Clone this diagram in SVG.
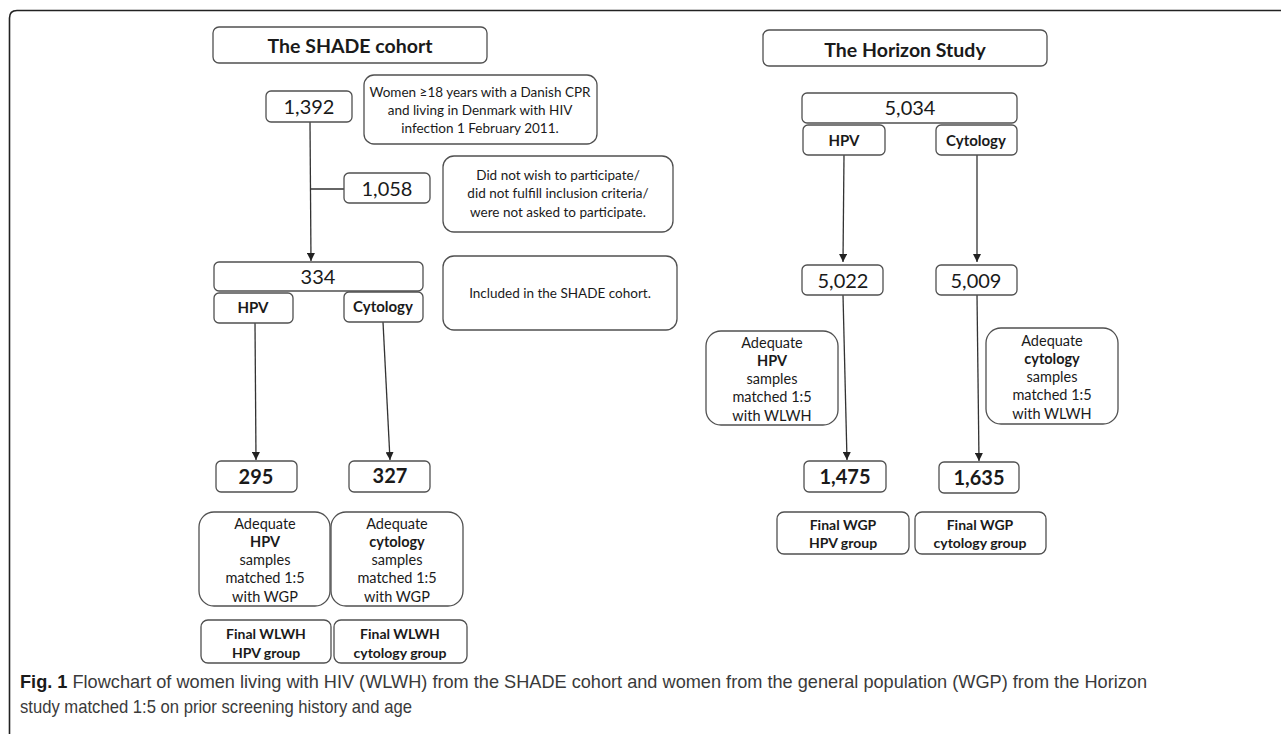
<svg xmlns="http://www.w3.org/2000/svg" width="1281" height="734" viewBox="0 0 1281 734">
<style>
.box{fill:#fff;stroke:#505050;stroke-width:1.3}
.t{font-family:Lato,"Liberation Sans",sans-serif;fill:#1a1a1a;text-anchor:middle;dominant-baseline:central}
.title{font-size:19.5px;font-weight:bold}
.num{font-size:20px}
.numb{font-size:20px;font-weight:bold}
.lab{font-size:15px;font-weight:bold}
.note{font-size:13.5px}
.adq{font-size:14.5px}
.fin{font-size:14px;font-weight:bold}
.con{stroke:#333;stroke-width:1.3;fill:none}
.cap{font-family:"Liberation Sans",Arial,sans-serif;font-size:18.5px;fill:#3a3a3a}
</style>
<defs>
<marker id="ah" markerWidth="8" markerHeight="8" refX="8" refY="4" orient="auto" markerUnits="userSpaceOnUse">
<path d="M0,0 L8,4 L0,8 z" fill="#222"/>
</marker>
</defs>
<rect width="1281" height="734" fill="#fff"/>
<path d="M9.5 734 V18 Q9.5 10.5 17 10.5 H1281" fill="none" stroke="#222" stroke-width="1.6"/>

<g id="connectors">
<line class="con" x1="310" y1="122" x2="311" y2="261" marker-end="url(#ah)"/>
<line class="con" x1="311" y1="189" x2="344" y2="189"/>
<line class="con" x1="255" y1="323" x2="256" y2="460" marker-end="url(#ah)"/>
<line class="con" x1="383" y1="322" x2="390" y2="460" marker-end="url(#ah)"/>
<line class="con" x1="844" y1="155" x2="843" y2="262" marker-end="url(#ah)"/>
<line class="con" x1="977" y1="155" x2="977" y2="262" marker-end="url(#ah)"/>
<line class="con" x1="843" y1="295" x2="847" y2="460" marker-end="url(#ah)"/>
<line class="con" x1="977" y1="295" x2="979" y2="461" marker-end="url(#ah)"/>
</g>

<g id="shade-title"><rect class="box" x="213" y="27" width="274" height="36" rx="6"/><text class="t title" x="350" y="45">The SHADE cohort</text></g>
<g id="n1392"><rect class="box" x="266" y="91" width="86" height="31" rx="5"/><text class="t num" x="309" y="106">1,392</text></g>
<g id="women"><rect class="box" x="364" y="75" width="233" height="69" rx="10"/>
<text class="t note" x="480" y="92">Women ≥18 years with a Danish CPR</text>
<text class="t note" x="480" y="110">and living in Denmark with HIV</text>
<text class="t note" x="480" y="128">infection 1 February 2011.</text></g>
<g id="n1058"><rect class="box" x="344" y="173" width="86" height="30" rx="5"/><text class="t num" x="387" y="188">1,058</text></g>
<g id="didnot"><rect class="box" x="443" y="156" width="230" height="76" rx="11"/>
<text class="t note" x="558" y="175">Did not wish to participate/</text>
<text class="t note" x="558" y="193">did not fulfill inclusion criteria/</text>
<text class="t note" x="558" y="212">were not asked to participate.</text></g>
<g id="n334"><rect class="box" x="214" y="262" width="209" height="29" rx="5"/><text class="t num" x="318" y="276">334</text></g>
<g id="shade-hpv"><rect class="box" x="214" y="293" width="79" height="30" rx="5"/><text class="t lab" x="253" y="307">HPV</text></g>
<g id="shade-cyt"><rect class="box" x="344" y="292" width="79" height="30" rx="5"/><text class="t lab" x="383" y="306">Cytology</text></g>
<g id="included"><rect class="box" x="443" y="256" width="234" height="74" rx="11"/><text class="t note" x="560" y="293">Included in the SHADE cohort.</text></g>
<g id="n295"><rect class="box" x="216" y="461" width="81" height="31" rx="5"/><text class="t numb" x="256" y="476">295</text></g>
<g id="n327"><rect class="box" x="349" y="461" width="81" height="31" rx="5"/><text class="t numb" x="390" y="475">327</text></g>
<g id="adq-shade-hpv"><rect class="box" x="199" y="512" width="131" height="94" rx="15"/>
<text class="t adq" x="265" y="523">Adequate</text>
<text class="t adq" x="265" y="541" font-weight="bold">HPV</text>
<text class="t adq" x="265" y="559">samples</text>
<text class="t adq" x="265" y="577">matched 1:5</text>
<text class="t adq" x="265" y="596">with WGP</text></g>
<g id="adq-shade-cyt"><rect class="box" x="331" y="512" width="132" height="94" rx="15"/>
<text class="t adq" x="397" y="523">Adequate</text>
<text class="t adq" x="397" y="541" font-weight="bold">cytology</text>
<text class="t adq" x="397" y="559">samples</text>
<text class="t adq" x="397" y="577">matched 1:5</text>
<text class="t adq" x="397" y="596">with WGP</text></g>
<g id="final-wlwh-hpv"><rect class="box" x="201" y="620" width="130" height="43" rx="7"/>
<text class="t fin" x="266" y="633">Final WLWH</text><text class="t fin" x="266" y="652">HPV group</text></g>
<g id="final-wlwh-cyt"><rect class="box" x="334" y="620" width="133" height="43" rx="7"/>
<text class="t fin" x="400" y="633">Final WLWH</text><text class="t fin" x="400" y="652">cytology group</text></g>

<g id="horizon-title"><rect class="box" x="763" y="30" width="284" height="36" rx="6"/><text class="t title" x="905" y="49">The Horizon Study</text></g>
<g id="n5034"><rect class="box" x="802" y="93" width="215" height="30" rx="5"/><text class="t num" x="910" y="107">5,034</text></g>
<g id="hor-hpv"><rect class="box" x="803" y="125" width="82" height="30" rx="5"/><text class="t lab" x="844" y="140">HPV</text></g>
<g id="hor-cyt"><rect class="box" x="936" y="125" width="81" height="30" rx="5"/><text class="t lab" x="976" y="140">Cytology</text></g>
<g id="n5022"><rect class="box" x="802" y="265" width="81" height="30" rx="5"/><text class="t num" x="843" y="280">5,022</text></g>
<g id="n5009"><rect class="box" x="936" y="265" width="81" height="30" rx="5"/><text class="t num" x="976" y="280">5,009</text></g>
<g id="adq-hor-hpv"><rect class="box" x="706" y="331" width="132" height="94" rx="15"/>
<text class="t adq" x="772" y="342">Adequate</text>
<text class="t adq" x="772" y="360" font-weight="bold">HPV</text>
<text class="t adq" x="772" y="378">samples</text>
<text class="t adq" x="772" y="396">matched 1:5</text>
<text class="t adq" x="772" y="415">with WLWH</text></g>
<g id="adq-hor-cyt"><rect class="box" x="986" y="328" width="132" height="96" rx="15"/>
<text class="t adq" x="1052" y="340">Adequate</text>
<text class="t adq" x="1052" y="358" font-weight="bold">cytology</text>
<text class="t adq" x="1052" y="376">samples</text>
<text class="t adq" x="1052" y="394">matched 1:5</text>
<text class="t adq" x="1052" y="413">with WLWH</text></g>
<g id="n1475"><rect class="box" x="804" y="461" width="82" height="31" rx="5"/><text class="t numb" x="845" y="476">1,475</text></g>
<g id="n1635"><rect class="box" x="939" y="462" width="80" height="31" rx="5"/><text class="t numb" x="979" y="477">1,635</text></g>
<g id="final-wgp-hpv"><rect class="box" x="777" y="512" width="132" height="42" rx="7"/>
<text class="t fin" x="843" y="524">Final WGP</text><text class="t fin" x="843" y="542">HPV group</text></g>
<g id="final-wgp-cyt"><rect class="box" x="915" y="512" width="131" height="42" rx="7"/>
<text class="t fin" x="980" y="524">Final WGP</text><text class="t fin" x="980" y="542">cytology group</text></g>

<g id="caption">
<text class="cap" x="20" y="688" textLength="1127" lengthAdjust="spacingAndGlyphs"><tspan font-weight="bold" fill="#1a1a1a">Fig. 1</tspan> Flowchart of women living with HIV (WLWH) from the SHADE cohort and women from the general population (WGP) from the Horizon</text>
<text class="cap" x="20" y="713" textLength="392" lengthAdjust="spacingAndGlyphs">study matched 1:5 on prior screening history and age</text>
</g>
</svg>
